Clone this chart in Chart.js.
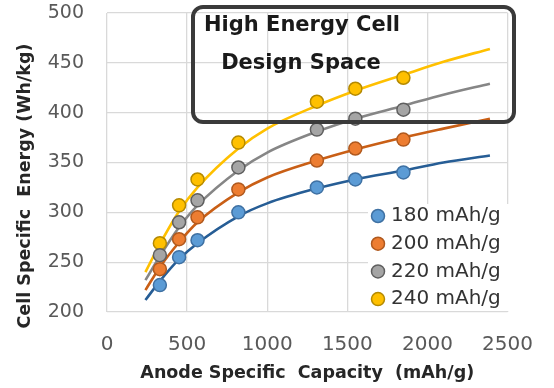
<!DOCTYPE html>
<html>
<head>
<meta charset="utf-8">
<script src="https://cdn.jsdelivr.net/npm/chart.js@4.4.1/dist/chart.umd.min.js"></script>
<style>
  html, body { margin: 0; padding: 0; background: #fff; }
  #wrap { width: 554px; height: 388px; }
</style>
</head>
<body>
<div id="wrap"><canvas id="chart" width="554" height="388"></canvas></div>
<script>
// --- data ---
const seriesLabels = ['180 mAh/g', '200 mAh/g', '220 mAh/g', '240 mAh/g'];

// measured points (anode capacity, cell energy)
const capX = [330, 450, 565, 820, 1310, 1550, 1850];
const e180 = [227, 255, 272, 300, 325, 333, 340];
const e200 = [243, 273, 295, 323, 352, 364, 373];
const e220 = [257, 290, 312, 345, 383, 394, 403];
const e240 = [269, 307, 333, 370, 411, 424, 435];

// trend curves, sampled along the drawn lines
const fitX = [240, 330, 450, 565, 820, 1000, 1310, 1550, 1850, 2100, 2390];
const fit180 = [212, 231, 253, 269, 296, 309, 324, 333, 342, 350, 357];
const fit200 = [222, 245, 270, 290, 320, 335, 352, 363, 375, 384, 394];
const fit220 = [232, 256, 285, 307, 342, 360, 381, 394, 407, 418, 429];
const fit240 = [240, 268, 301, 325, 364, 384, 407, 422, 438, 451, 464];

const xTicks = [0, 500, 1000, 1500, 2000, 2500];
const yTicks = [200, 250, 300, 350, 400, 450, 500];

const markerFill = ['#5b9bd5', '#ed7d31', '#a5a5a5', '#ffc000'];
const markerEdge = ['#3f71a3', '#b0591e', '#5f5f5f', '#b58a00'];
const lineColor = ['#265d95', '#c95f16', '#868686', '#ffc000'];

const pts = [e180, e200, e220, e240];
const fits = [fit180, fit200, fit220, fit240];

const toXY = (xs, ys) => xs.map((x, i) => ({ x: x, y: ys[i] }));

const datasets = [];
fits.forEach((f, i) => {
    datasets.push({
        label: seriesLabels[i] + ' fit',
        data: toXY(fitX, f),
        showLine: true,
        borderColor: lineColor[i],
        borderWidth: 2.6,
        pointRadius: 0,
        cubicInterpolationMode: 'monotone',
        order: 2
    });
});
pts.forEach((p, i) => {
    datasets.push({
        label: seriesLabels[i],
        data: toXY(capX, p),
        showLine: false,
        backgroundColor: markerFill[i],
        borderColor: markerEdge[i],
        borderWidth: 1.5,
        pointRadius: 6.5,
        order: 1
    });
});

// y axis title, drawn by hand so it can sit where the original has it
const yTitlePlugin = {
    id: 'yTitle',
    afterDraw(chart) {
        const ctx = chart.ctx;
        ctx.save();
        ctx.translate(25, 186);
        ctx.rotate(-Math.PI / 2);
        ctx.font = 'bold 17.5px "DejaVu Sans"';
        ctx.fillStyle = '#262626';
        ctx.textAlign = 'center';
        ctx.textBaseline = 'middle';
        ctx.fillText('Cell Specific  Energy (Wh/kg)', 0, 0);
        ctx.restore();
    }
};

// legend in the lower right corner of the plot
const legendPlugin = {
    id: 'cornerLegend',
    afterDatasetsDraw(chart) {
        const ctx = chart.ctx;
        ctx.save();
        ctx.fillStyle = '#fff';
        ctx.fillRect(368, 204, 146, 107);
        ctx.font = '20px "DejaVu Sans"';
        ctx.textBaseline = 'middle';
        ctx.textAlign = 'left';
        seriesLabels.forEach((lab, i) => {
            const y = 216 + i * 27.7;
            ctx.beginPath();
            ctx.arc(378, y, 6.5, 0, Math.PI * 2);
            ctx.fillStyle = markerFill[i];
            ctx.fill();
            ctx.lineWidth = 1.5;
            ctx.strokeStyle = markerEdge[i];
            ctx.stroke();
            ctx.fillStyle = '#333';
            ctx.fillText(lab, 391, y);
        });
        ctx.restore();
    }
};

// "High Energy Cell Design Space" callout box
const calloutPlugin = {
    id: 'callout',
    afterDatasetsDraw(chart) {
        const ctx = chart.ctx;
        ctx.save();
        ctx.lineWidth = 4;
        ctx.strokeStyle = '#3a3a3a';
        ctx.beginPath();
        ctx.roundRect(193, 7, 321, 115, 10);
        ctx.stroke();
        ctx.fillStyle = '#1a1a1a';
        ctx.font = 'bold 21px "DejaVu Sans"';
        ctx.textAlign = 'center';
        ctx.textBaseline = 'middle';
        ctx.fillText('High Energy Cell', 302, 26);
        ctx.fillText('Design Space', 301, 64);
        ctx.restore();
    }
};

new Chart(document.getElementById('chart'), {
    type: 'scatter',
    data: { datasets: datasets },
    options: {
        responsive: false,
        animation: false,
        devicePixelRatio: 1,
        layout: { padding: { top: 0, right: 39, left: 0, bottom: 0 } },
        plugins: {
            legend: { display: false },
            tooltip: { enabled: false }
        },
        scales: {
            x: {
                type: 'linear',
                min: 0,
                max: 2500,
                afterBuildTicks: s => { s.ticks = xTicks.map(v => ({ value: v })); },
                afterFit: s => { s.height = 76; },
                grid: { color: '#d9d9d9', lineWidth: 1.3, drawTicks: false },
                border: { display: false },
                ticks: {
                    padding: 21,
                    color: '#595959',
                    font: { family: 'DejaVu Sans', size: 20 },
                    maxRotation: 0,
                    callback: v => String(v)
                },
                title: {
                    display: true,
                    text: 'Anode Specific  Capacity  (mAh/g)',
                    color: '#262626',
                    font: { family: 'DejaVu Sans', size: 17.5, weight: 'bold' },
                    padding: { top: 0, bottom: 4 }
                }
            },
            y: {
                type: 'linear',
                min: 200,
                max: 500,
                afterBuildTicks: s => { s.ticks = yTicks.map(v => ({ value: v })); },
                afterFit: s => { s.width = 107; s.paddingTop = 13; },
                grid: { color: '#d9d9d9', lineWidth: 1.3, drawTicks: false },
                border: { display: false },
                ticks: {
                    padding: 23,
                    color: '#595959',
                    font: { family: 'DejaVu Sans', size: 19, lineHeight: 1.0 }
                }
            }
        }
    },
    plugins: [legendPlugin, calloutPlugin, yTitlePlugin]
});
</script>
</body>
</html>
